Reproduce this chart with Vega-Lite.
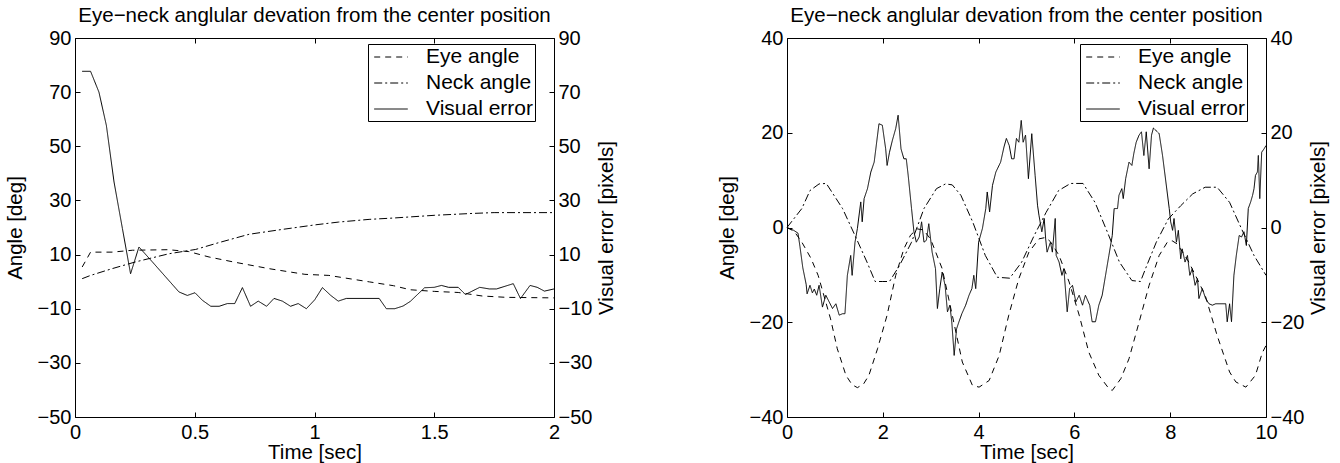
{
  "$schema": "https://vega.github.io/schema/vega-lite/v6.json",
  "background": "white",
  "padding": {"left": 4, "top": 5, "right": 5, "bottom": 0},
  "bounds": "flush",
  "spacing": 233,
  "config": {
    "font": "Liberation Sans",
    "view": {"stroke": "black", "strokeWidth": 1},
    "axis": {"domain": false, "grid": false, "tickSize": -5, "tickColor": "black", "tickWidth": 1, "labelColor": "black", "titleColor": "black", "labelFontSize": 20, "titleFontSize": 20.5, "titleFontWeight": "normal", "labelFont": "Liberation Sans", "titleFont": "Liberation Sans", "labelPadding": 9, "format": "~f", "labelOverlap": false, "labelFlush": false, "minExtent": 0},
    "title": {"fontSize": 20.5, "fontWeight": "normal", "font": "Liberation Sans", "color": "black", "offset": 2, "baseline": "alphabetic", "anchor": "middle", "frame": "group"},
    "legend": {"symbolType": "M-1.6,0H1.6", "symbolSize": 441, "symbolStrokeWidth": 1, "symbolStrokeColor": "black", "symbolOffset": 10, "labelFontSize": 21, "labelFont": "Liberation Sans", "labelColor": "black", "labelOffset": 24, "padding": 2, "rowPadding": 5, "strokeColor": "black", "fillColor": "white", "labelLimit": 300}
  },
  "datasets": {
    "left": [
      {"t": 0.03, "series": "Eye angle", "v": 5.4},
      {"t": 0.065, "series": "Eye angle", "v": 10.9},
      {"t": 0.155, "series": "Eye angle", "v": 10.9},
      {"t": 0.24, "series": "Eye angle", "v": 11.6},
      {"t": 0.39, "series": "Eye angle", "v": 11.8},
      {"t": 0.475, "series": "Eye angle", "v": 11.1},
      {"t": 0.56, "series": "Eye angle", "v": 9.1},
      {"t": 0.66, "series": "Eye angle", "v": 7.3},
      {"t": 0.81, "series": "Eye angle", "v": 4.8},
      {"t": 0.96, "series": "Eye angle", "v": 2.7},
      {"t": 1.06, "series": "Eye angle", "v": 2.3},
      {"t": 1.23, "series": "Eye angle", "v": -0.1},
      {"t": 1.33, "series": "Eye angle", "v": -1.5},
      {"t": 1.4, "series": "Eye angle", "v": -3.0},
      {"t": 1.5, "series": "Eye angle", "v": -3.6},
      {"t": 1.6, "series": "Eye angle", "v": -4.0},
      {"t": 1.7, "series": "Eye angle", "v": -5.3},
      {"t": 1.8, "series": "Eye angle", "v": -5.8},
      {"t": 2.0, "series": "Eye angle", "v": -6.0},
      {"t": 0.03, "series": "Neck angle", "v": 1.1},
      {"t": 0.065, "series": "Neck angle", "v": 2.3},
      {"t": 0.155, "series": "Neck angle", "v": 4.8},
      {"t": 0.253, "series": "Neck angle", "v": 7.3},
      {"t": 0.392, "series": "Neck angle", "v": 10.3},
      {"t": 0.504, "series": "Neck angle", "v": 11.9},
      {"t": 0.6, "series": "Neck angle", "v": 14.4},
      {"t": 0.727, "series": "Neck angle", "v": 17.5},
      {"t": 0.866, "series": "Neck angle", "v": 19.3},
      {"t": 1.005, "series": "Neck angle", "v": 21.0},
      {"t": 1.1, "series": "Neck angle", "v": 22.0},
      {"t": 1.228, "series": "Neck angle", "v": 23.0},
      {"t": 1.33, "series": "Neck angle", "v": 23.5},
      {"t": 1.5, "series": "Neck angle", "v": 24.5},
      {"t": 1.66, "series": "Neck angle", "v": 25.2},
      {"t": 1.75, "series": "Neck angle", "v": 25.5},
      {"t": 2.0, "series": "Neck angle", "v": 25.5},
      {"t": 0.03, "series": "Visual error", "v": 77.7},
      {"t": 0.065, "series": "Visual error", "v": 77.7},
      {"t": 0.1, "series": "Visual error", "v": 70.0},
      {"t": 0.131, "series": "Visual error", "v": 57.7},
      {"t": 0.163, "series": "Visual error", "v": 36.8},
      {"t": 0.198, "series": "Visual error", "v": 19.6},
      {"t": 0.232, "series": "Visual error", "v": 2.9},
      {"t": 0.267, "series": "Visual error", "v": 12.8},
      {"t": 0.323, "series": "Visual error", "v": 7.3},
      {"t": 0.379, "series": "Visual error", "v": 1.7},
      {"t": 0.434, "series": "Visual error", "v": -3.8},
      {"t": 0.469, "series": "Visual error", "v": -5.1},
      {"t": 0.501, "series": "Visual error", "v": -4.1},
      {"t": 0.532, "series": "Visual error", "v": -6.9},
      {"t": 0.567, "series": "Visual error", "v": -9.1},
      {"t": 0.602, "series": "Visual error", "v": -9.1},
      {"t": 0.636, "series": "Visual error", "v": -8.1},
      {"t": 0.667, "series": "Visual error", "v": -8.1},
      {"t": 0.699, "series": "Visual error", "v": -2.2},
      {"t": 0.733, "series": "Visual error", "v": -9.1},
      {"t": 0.765, "series": "Visual error", "v": -7.2},
      {"t": 0.8, "series": "Visual error", "v": -9.1},
      {"t": 0.831, "series": "Visual error", "v": -6.2},
      {"t": 0.866, "series": "Visual error", "v": -7.2},
      {"t": 0.9, "series": "Visual error", "v": -9.1},
      {"t": 0.932, "series": "Visual error", "v": -8.1},
      {"t": 0.966, "series": "Visual error", "v": -10.0},
      {"t": 1.001, "series": "Visual error", "v": -6.7},
      {"t": 1.033, "series": "Visual error", "v": -2.2},
      {"t": 1.068, "series": "Visual error", "v": -5.1},
      {"t": 1.099, "series": "Visual error", "v": -7.2},
      {"t": 1.133, "series": "Visual error", "v": -6.2},
      {"t": 1.27, "series": "Visual error", "v": -6.2},
      {"t": 1.3, "series": "Visual error", "v": -10.0},
      {"t": 1.335, "series": "Visual error", "v": -10.0},
      {"t": 1.37, "series": "Visual error", "v": -9.0},
      {"t": 1.4, "series": "Visual error", "v": -7.3},
      {"t": 1.43, "series": "Visual error", "v": -4.75},
      {"t": 1.46, "series": "Visual error", "v": -2.25},
      {"t": 1.5, "series": "Visual error", "v": -2.1},
      {"t": 1.53, "series": "Visual error", "v": -1.4},
      {"t": 1.56, "series": "Visual error", "v": -2.1},
      {"t": 1.6, "series": "Visual error", "v": -2.1},
      {"t": 1.63, "series": "Visual error", "v": -4.75},
      {"t": 1.69, "series": "Visual error", "v": -2.1},
      {"t": 1.73, "series": "Visual error", "v": -2.7},
      {"t": 1.76, "series": "Visual error", "v": -2.7},
      {"t": 1.83, "series": "Visual error", "v": -0.75},
      {"t": 1.86, "series": "Visual error", "v": -6.25},
      {"t": 1.9, "series": "Visual error", "v": -1.4},
      {"t": 1.93, "series": "Visual error", "v": -2.1},
      {"t": 1.96, "series": "Visual error", "v": -3.5},
      {"t": 2.0, "series": "Visual error", "v": -2.7}
    ],
    "right": [
      {"t": 0, "series": "Eye angle", "v": 0},
      {"t": 0.15, "series": "Eye angle", "v": -0.8},
      {"t": 0.31, "series": "Eye angle", "v": -3.1},
      {"t": 0.5, "series": "Eye angle", "v": -6.5},
      {"t": 0.65, "series": "Eye angle", "v": -10.1},
      {"t": 0.91, "series": "Eye angle", "v": -19.3},
      {"t": 1.05, "series": "Eye angle", "v": -25.6},
      {"t": 1.16, "series": "Eye angle", "v": -29.0},
      {"t": 1.23, "series": "Eye angle", "v": -31.2},
      {"t": 1.36, "series": "Eye angle", "v": -33.2},
      {"t": 1.47, "series": "Eye angle", "v": -33.8},
      {"t": 1.6, "series": "Eye angle", "v": -33.0},
      {"t": 1.71, "series": "Eye angle", "v": -31.2},
      {"t": 1.89, "series": "Eye angle", "v": -25.6},
      {"t": 2.09, "series": "Eye angle", "v": -18.5},
      {"t": 2.27, "series": "Eye angle", "v": -10.1},
      {"t": 2.44, "series": "Eye angle", "v": -4.5},
      {"t": 2.58, "series": "Eye angle", "v": -1.6},
      {"t": 2.72, "series": "Eye angle", "v": -0.3},
      {"t": 2.85, "series": "Eye angle", "v": -0.5},
      {"t": 3.0, "series": "Eye angle", "v": -2.5},
      {"t": 3.24, "series": "Eye angle", "v": -8.7},
      {"t": 3.45, "series": "Eye angle", "v": -18.5},
      {"t": 3.66, "series": "Eye angle", "v": -28.4},
      {"t": 3.87, "series": "Eye angle", "v": -33.3},
      {"t": 4.01, "series": "Eye angle", "v": -33.7},
      {"t": 4.22, "series": "Eye angle", "v": -32.3},
      {"t": 4.43, "series": "Eye angle", "v": -27.0},
      {"t": 4.63, "series": "Eye angle", "v": -18.5},
      {"t": 4.84, "series": "Eye angle", "v": -10.8},
      {"t": 5.05, "series": "Eye angle", "v": -5.2},
      {"t": 5.26, "series": "Eye angle", "v": -2.4},
      {"t": 5.4, "series": "Eye angle", "v": -2.1},
      {"t": 5.5, "series": "Eye angle", "v": -3.0},
      {"t": 5.68, "series": "Eye angle", "v": -5.9},
      {"t": 5.89, "series": "Eye angle", "v": -11.5},
      {"t": 6.1, "series": "Eye angle", "v": -18.5},
      {"t": 6.3, "series": "Eye angle", "v": -26.3},
      {"t": 6.51, "series": "Eye angle", "v": -31.2},
      {"t": 6.72, "series": "Eye angle", "v": -34.0},
      {"t": 6.79, "series": "Eye angle", "v": -34.4},
      {"t": 6.97, "series": "Eye angle", "v": -31.9},
      {"t": 7.14, "series": "Eye angle", "v": -27.7},
      {"t": 7.35, "series": "Eye angle", "v": -20.0},
      {"t": 7.56, "series": "Eye angle", "v": -12.2},
      {"t": 7.77, "series": "Eye angle", "v": -5.9},
      {"t": 7.94, "series": "Eye angle", "v": -3.1},
      {"t": 8.04, "series": "Eye angle", "v": -2.8},
      {"t": 8.15, "series": "Eye angle", "v": -3.5},
      {"t": 8.39, "series": "Eye angle", "v": -7.3},
      {"t": 8.73, "series": "Eye angle", "v": -14.3},
      {"t": 8.98, "series": "Eye angle", "v": -22.8},
      {"t": 9.24, "series": "Eye angle", "v": -30.5},
      {"t": 9.37, "series": "Eye angle", "v": -32.6},
      {"t": 9.58, "series": "Eye angle", "v": -33.7},
      {"t": 9.78, "series": "Eye angle", "v": -31.2},
      {"t": 9.92, "series": "Eye angle", "v": -26.5},
      {"t": 10, "series": "Eye angle", "v": -24.9},
      {"t": 0, "series": "Neck angle", "v": 0},
      {"t": 0.31, "series": "Neck angle", "v": 4.0},
      {"t": 0.48, "series": "Neck angle", "v": 7.8},
      {"t": 0.67, "series": "Neck angle", "v": 9.2},
      {"t": 0.82, "series": "Neck angle", "v": 9.3},
      {"t": 1.16, "series": "Neck angle", "v": 4.0},
      {"t": 1.42, "series": "Neck angle", "v": -1.7},
      {"t": 1.67, "series": "Neck angle", "v": -7.3},
      {"t": 1.84, "series": "Neck angle", "v": -11.4},
      {"t": 2.0, "series": "Neck angle", "v": -11.4},
      {"t": 2.14, "series": "Neck angle", "v": -11.4},
      {"t": 2.35, "series": "Neck angle", "v": -8.0},
      {"t": 2.6, "series": "Neck angle", "v": -3.1},
      {"t": 2.86, "series": "Neck angle", "v": 4.0},
      {"t": 3.12, "series": "Neck angle", "v": 8.2},
      {"t": 3.31, "series": "Neck angle", "v": 9.2},
      {"t": 3.45, "series": "Neck angle", "v": 9.0},
      {"t": 3.63, "series": "Neck angle", "v": 6.8},
      {"t": 3.88, "series": "Neck angle", "v": 1.1},
      {"t": 4.14, "series": "Neck angle", "v": -5.9},
      {"t": 4.39, "series": "Neck angle", "v": -10.5},
      {"t": 4.65, "series": "Neck angle", "v": -10.7},
      {"t": 4.9, "series": "Neck angle", "v": -7.3},
      {"t": 5.16, "series": "Neck angle", "v": -1.7},
      {"t": 5.41, "series": "Neck angle", "v": 3.2},
      {"t": 5.67, "series": "Neck angle", "v": 7.8},
      {"t": 5.92, "series": "Neck angle", "v": 9.3},
      {"t": 6.18, "series": "Neck angle", "v": 9.3},
      {"t": 6.43, "series": "Neck angle", "v": 5.3},
      {"t": 6.69, "series": "Neck angle", "v": -1.0},
      {"t": 6.94, "series": "Neck angle", "v": -7.3},
      {"t": 7.2, "series": "Neck angle", "v": -11.2},
      {"t": 7.38, "series": "Neck angle", "v": -11.4},
      {"t": 7.5, "series": "Neck angle", "v": -8.3},
      {"t": 7.71, "series": "Neck angle", "v": -3.1},
      {"t": 7.96, "series": "Neck angle", "v": 1.8},
      {"t": 8.22, "series": "Neck angle", "v": 4.6},
      {"t": 8.47, "series": "Neck angle", "v": 7.1},
      {"t": 8.73, "series": "Neck angle", "v": 8.5},
      {"t": 8.98, "series": "Neck angle", "v": 8.5},
      {"t": 9.24, "series": "Neck angle", "v": 5.3},
      {"t": 9.49, "series": "Neck angle", "v": -0.3},
      {"t": 9.75, "series": "Neck angle", "v": -5.9},
      {"t": 10, "series": "Neck angle", "v": -10.1},
      {"t": 0.02, "series": "Visual error", "v": -0.1},
      {"t": 0.14, "series": "Visual error", "v": -0.6},
      {"t": 0.23, "series": "Visual error", "v": -1.2},
      {"t": 0.27, "series": "Visual error", "v": -4.0},
      {"t": 0.33, "series": "Visual error", "v": -8.5},
      {"t": 0.4, "series": "Visual error", "v": -12.0},
      {"t": 0.42, "series": "Visual error", "v": -14.0},
      {"t": 0.48, "series": "Visual error", "v": -12.2},
      {"t": 0.53, "series": "Visual error", "v": -13.8},
      {"t": 0.57, "series": "Visual error", "v": -13.0},
      {"t": 0.62, "series": "Visual error", "v": -14.3},
      {"t": 0.67, "series": "Visual error", "v": -12.2},
      {"t": 0.74, "series": "Visual error", "v": -16.8},
      {"t": 0.81, "series": "Visual error", "v": -14.3},
      {"t": 0.88, "series": "Visual error", "v": -15.7},
      {"t": 0.95, "series": "Visual error", "v": -17.1},
      {"t": 1.02, "series": "Visual error", "v": -16.1},
      {"t": 1.09, "series": "Visual error", "v": -18.5},
      {"t": 1.16, "series": "Visual error", "v": -18.2},
      {"t": 1.21, "series": "Visual error", "v": -18.2},
      {"t": 1.26, "series": "Visual error", "v": -10.1},
      {"t": 1.33, "series": "Visual error", "v": -5.9},
      {"t": 1.36, "series": "Visual error", "v": -10.1},
      {"t": 1.42, "series": "Visual error", "v": -3.1},
      {"t": 1.47, "series": "Visual error", "v": -0.2},
      {"t": 1.54, "series": "Visual error", "v": 5.4},
      {"t": 1.57, "series": "Visual error", "v": 1.2},
      {"t": 1.61, "series": "Visual error", "v": 6.1},
      {"t": 1.68, "series": "Visual error", "v": 8.2},
      {"t": 1.75, "series": "Visual error", "v": 11.7},
      {"t": 1.82, "series": "Visual error", "v": 13.8},
      {"t": 1.92, "series": "Visual error", "v": 21.9},
      {"t": 1.99, "series": "Visual error", "v": 21.6},
      {"t": 2.06, "series": "Visual error", "v": 16.6},
      {"t": 2.09, "series": "Visual error", "v": 13.1},
      {"t": 2.14, "series": "Visual error", "v": 15.9},
      {"t": 2.2, "series": "Visual error", "v": 18.4},
      {"t": 2.27, "series": "Visual error", "v": 20.9},
      {"t": 2.32, "series": "Visual error", "v": 23.7},
      {"t": 2.38, "series": "Visual error", "v": 16.6},
      {"t": 2.44, "series": "Visual error", "v": 14.5},
      {"t": 2.49, "series": "Visual error", "v": 14.5},
      {"t": 2.53, "series": "Visual error", "v": 11.0},
      {"t": 2.6, "series": "Visual error", "v": 4.0},
      {"t": 2.65, "series": "Visual error", "v": -0.9},
      {"t": 2.7, "series": "Visual error", "v": -3.1},
      {"t": 2.76, "series": "Visual error", "v": -2.0},
      {"t": 2.81, "series": "Visual error", "v": 1.2},
      {"t": 2.86, "series": "Visual error", "v": -3.1},
      {"t": 2.91, "series": "Visual error", "v": -2.7},
      {"t": 2.96, "series": "Visual error", "v": 0.8},
      {"t": 3.03, "series": "Visual error", "v": -5.2},
      {"t": 3.1, "series": "Visual error", "v": -8.7},
      {"t": 3.14, "series": "Visual error", "v": -17.1},
      {"t": 3.19, "series": "Visual error", "v": -12.9},
      {"t": 3.24, "series": "Visual error", "v": -9.4},
      {"t": 3.3, "series": "Visual error", "v": -12.2},
      {"t": 3.35, "series": "Visual error", "v": -17.8},
      {"t": 3.4, "series": "Visual error", "v": -16.4},
      {"t": 3.44, "series": "Visual error", "v": -19.9},
      {"t": 3.49, "series": "Visual error", "v": -27.0},
      {"t": 3.54, "series": "Visual error", "v": -21.4},
      {"t": 3.59, "series": "Visual error", "v": -19.9},
      {"t": 3.65, "series": "Visual error", "v": -18.2},
      {"t": 3.73, "series": "Visual error", "v": -16.4},
      {"t": 3.8, "series": "Visual error", "v": -14.3},
      {"t": 3.86, "series": "Visual error", "v": -12.9},
      {"t": 3.9, "series": "Visual error", "v": -10.1},
      {"t": 3.94, "series": "Visual error", "v": -12.9},
      {"t": 4.0, "series": "Visual error", "v": -3.1},
      {"t": 4.08, "series": "Visual error", "v": -0.2},
      {"t": 4.15, "series": "Visual error", "v": 4.0},
      {"t": 4.18, "series": "Visual error", "v": 7.5},
      {"t": 4.23, "series": "Visual error", "v": 3.3},
      {"t": 4.29, "series": "Visual error", "v": 8.9},
      {"t": 4.36, "series": "Visual error", "v": 11.7},
      {"t": 4.46, "series": "Visual error", "v": 13.8},
      {"t": 4.53, "series": "Visual error", "v": 17.0},
      {"t": 4.58, "series": "Visual error", "v": 18.8},
      {"t": 4.64, "series": "Visual error", "v": 17.3},
      {"t": 4.69, "series": "Visual error", "v": 14.5},
      {"t": 4.74, "series": "Visual error", "v": 14.5},
      {"t": 4.79, "series": "Visual error", "v": 18.8},
      {"t": 4.84, "series": "Visual error", "v": 18.0},
      {"t": 4.89, "series": "Visual error", "v": 22.6},
      {"t": 4.93, "series": "Visual error", "v": 18.0},
      {"t": 4.98, "series": "Visual error", "v": 19.5},
      {"t": 5.04, "series": "Visual error", "v": 10.3},
      {"t": 5.11, "series": "Visual error", "v": 19.8},
      {"t": 5.18, "series": "Visual error", "v": 11.0},
      {"t": 5.23, "series": "Visual error", "v": 4.7},
      {"t": 5.26, "series": "Visual error", "v": 2.6},
      {"t": 5.32, "series": "Visual error", "v": -0.9},
      {"t": 5.37, "series": "Visual error", "v": 1.9},
      {"t": 5.4, "series": "Visual error", "v": -2.4},
      {"t": 5.43, "series": "Visual error", "v": -5.2},
      {"t": 5.5, "series": "Visual error", "v": -3.1},
      {"t": 5.54, "series": "Visual error", "v": -5.2},
      {"t": 5.6, "series": "Visual error", "v": 1.9},
      {"t": 5.62, "series": "Visual error", "v": -5.9},
      {"t": 5.68, "series": "Visual error", "v": -7.3},
      {"t": 5.74, "series": "Visual error", "v": -10.1},
      {"t": 5.78, "series": "Visual error", "v": -8.7},
      {"t": 5.85, "series": "Visual error", "v": -17.8},
      {"t": 5.9, "series": "Visual error", "v": -12.9},
      {"t": 5.96, "series": "Visual error", "v": -12.2},
      {"t": 6.03, "series": "Visual error", "v": -15.7},
      {"t": 6.1, "series": "Visual error", "v": -14.3},
      {"t": 6.17, "series": "Visual error", "v": -16.4},
      {"t": 6.23, "series": "Visual error", "v": -14.3},
      {"t": 6.32, "series": "Visual error", "v": -16.4},
      {"t": 6.37, "series": "Visual error", "v": -19.9},
      {"t": 6.44, "series": "Visual error", "v": -19.9},
      {"t": 6.51, "series": "Visual error", "v": -16.4},
      {"t": 6.58, "series": "Visual error", "v": -14.3},
      {"t": 6.65, "series": "Visual error", "v": -10.1},
      {"t": 6.72, "series": "Visual error", "v": -5.9},
      {"t": 6.79, "series": "Visual error", "v": -1.7},
      {"t": 6.83, "series": "Visual error", "v": 4.0},
      {"t": 6.9, "series": "Visual error", "v": 4.0},
      {"t": 6.93, "series": "Visual error", "v": 6.8},
      {"t": 6.99, "series": "Visual error", "v": 8.2},
      {"t": 7.02, "series": "Visual error", "v": 6.1},
      {"t": 7.07, "series": "Visual error", "v": 10.3},
      {"t": 7.14, "series": "Visual error", "v": 13.8},
      {"t": 7.2, "series": "Visual error", "v": 13.1},
      {"t": 7.24, "series": "Visual error", "v": 15.6},
      {"t": 7.29, "series": "Visual error", "v": 18.0},
      {"t": 7.35, "series": "Visual error", "v": 19.5},
      {"t": 7.4, "series": "Visual error", "v": 20.2},
      {"t": 7.45, "series": "Visual error", "v": 15.2},
      {"t": 7.5, "series": "Visual error", "v": 20.2},
      {"t": 7.56, "series": "Visual error", "v": 12.4},
      {"t": 7.61, "series": "Visual error", "v": 19.5},
      {"t": 7.65, "series": "Visual error", "v": 21.0},
      {"t": 7.7, "series": "Visual error", "v": 20.5},
      {"t": 7.77, "series": "Visual error", "v": 19.8},
      {"t": 7.84, "series": "Visual error", "v": 15.2},
      {"t": 7.91, "series": "Visual error", "v": 9.6},
      {"t": 7.98, "series": "Visual error", "v": 4.0},
      {"t": 8.01, "series": "Visual error", "v": 1.2},
      {"t": 8.05, "series": "Visual error", "v": -0.6},
      {"t": 8.08, "series": "Visual error", "v": 1.9},
      {"t": 8.13, "series": "Visual error", "v": -3.1},
      {"t": 8.17, "series": "Visual error", "v": -0.6},
      {"t": 8.22, "series": "Visual error", "v": -6.6},
      {"t": 8.25, "series": "Visual error", "v": -4.5},
      {"t": 8.31, "series": "Visual error", "v": -7.3},
      {"t": 8.36, "series": "Visual error", "v": -5.9},
      {"t": 8.41, "series": "Visual error", "v": -10.1},
      {"t": 8.46, "series": "Visual error", "v": -8.7},
      {"t": 8.52, "series": "Visual error", "v": -12.2},
      {"t": 8.57, "series": "Visual error", "v": -10.8},
      {"t": 8.6, "series": "Visual error", "v": -15.0},
      {"t": 8.67, "series": "Visual error", "v": -12.9},
      {"t": 8.74, "series": "Visual error", "v": -15.0},
      {"t": 8.81, "series": "Visual error", "v": -16.1},
      {"t": 8.88, "series": "Visual error", "v": -16.4},
      {"t": 8.95, "series": "Visual error", "v": -16.1},
      {"t": 9.16, "series": "Visual error", "v": -16.1},
      {"t": 9.19, "series": "Visual error", "v": -19.9},
      {"t": 9.24, "series": "Visual error", "v": -16.1},
      {"t": 9.28, "series": "Visual error", "v": -19.9},
      {"t": 9.33, "series": "Visual error", "v": -10.1},
      {"t": 9.38, "series": "Visual error", "v": -5.9},
      {"t": 9.44, "series": "Visual error", "v": -1.7},
      {"t": 9.49, "series": "Visual error", "v": -2.0},
      {"t": 9.54, "series": "Visual error", "v": -0.9},
      {"t": 9.59, "series": "Visual error", "v": -3.8},
      {"t": 9.63, "series": "Visual error", "v": 4.0},
      {"t": 9.68, "series": "Visual error", "v": 5.4},
      {"t": 9.72, "series": "Visual error", "v": 6.8},
      {"t": 9.75, "series": "Visual error", "v": 8.2},
      {"t": 9.78, "series": "Visual error", "v": 11.0},
      {"t": 9.82, "series": "Visual error", "v": 11.7},
      {"t": 9.84, "series": "Visual error", "v": 15.2},
      {"t": 9.87, "series": "Visual error", "v": 6.1},
      {"t": 9.91, "series": "Visual error", "v": 15.9},
      {"t": 9.96, "series": "Visual error", "v": 16.6},
      {"t": 10, "series": "Visual error", "v": 17.3}
    ]
  },
  "resolve": {"scale": {"strokeDash": "independent"}, "legend": {"strokeDash": "independent"}},
  "hconcat": [
    {
      "width": 479, "height": 379,
      "title": {"text": "Eye−neck anglular devation from the center position"},
      "data": {"name": "left"},
      "resolve": {"scale": {"x": "independent", "y": "independent"}},
      "layer": [
        {
          "transform": [{"filter": "datum.series !== 'Visual error'"}],
          "mark": {"type": "line", "strokeWidth": 1, "color": "black"},
          "encoding": {
            "x": {"field": "t", "type": "quantitative", "scale": {"domain": [0, 2], "nice": false, "zero": false}, "axis": {"orient": "bottom", "title": "Time [sec]", "values": [0, 0.5, 1, 1.5, 2], "labelPadding": 10, "titlePadding": 0}},
            "y": {"field": "v", "type": "quantitative", "scale": {"domain": [-50, 90], "nice": false, "zero": false}, "axis": {"orient": "left", "title": "Angle [deg]", "values": [-50, -30, -10, 10, 30, 50, 70, 90], "titlePadding": 12}},
            "strokeDash": {"field": "series", "type": "nominal", "scale": {"domain": ["Eye angle", "Neck angle", "Visual error"], "range": [[6, 5], [8, 3, 2, 3], [1, 0]]}, "legend": {"title": null, "orient": "none", "legendX": 293, "legendY": 6}}
          }
        },
        {
          "transform": [{"filter": "datum.series === 'Visual error'"}],
          "mark": {"type": "line", "strokeWidth": 1, "color": "black"},
          "encoding": {
            "x": {"field": "t", "type": "quantitative", "scale": {"domain": [0, 2], "nice": false, "zero": false}, "axis": {"orient": "top", "title": null, "labels": false, "values": [0, 0.5, 1, 1.5, 2]}},
            "y": {"field": "v", "type": "quantitative", "scale": {"domain": [-50, 90], "nice": false, "zero": false}, "axis": {"orient": "right", "title": "Visual error [pixels]", "titleAngle": 270, "titleBaseline": "top", "values": [-50, -30, -10, 10, 30, 50, 70, 90], "titlePadding": 5}},
            "strokeDash": {"field": "series", "type": "nominal", "scale": {"domain": ["Eye angle", "Neck angle", "Visual error"], "range": [[6, 5], [8, 3, 2, 3], [1, 0]]}, "legend": {"title": null, "orient": "none", "legendX": 293, "legendY": 6}}
          }
        }
      ]
    },
    {
      "width": 479, "height": 379,
      "title": {"text": "Eye−neck anglular devation from the center position"},
      "data": {"name": "right"},
      "resolve": {"scale": {"x": "independent", "y": "independent"}},
      "layer": [
        {
          "transform": [{"filter": "datum.series !== 'Visual error'"}],
          "mark": {"type": "line", "strokeWidth": 1, "color": "black"},
          "encoding": {
            "x": {"field": "t", "type": "quantitative", "scale": {"domain": [0, 10], "nice": false, "zero": false}, "axis": {"orient": "bottom", "title": "Time [sec]", "values": [0, 2, 4, 6, 8, 10], "labelPadding": 10, "titlePadding": 0}},
            "y": {"field": "v", "type": "quantitative", "scale": {"domain": [-40, 40], "nice": false, "zero": false}, "axis": {"orient": "left", "title": "Angle [deg]", "values": [-40, -20, 0, 20, 40], "titlePadding": 12}},
            "strokeDash": {"field": "series", "type": "nominal", "scale": {"domain": ["Eye angle", "Neck angle", "Visual error"], "range": [[6, 5], [8, 3, 2, 3], [1, 0]]}, "legend": {"title": null, "orient": "none", "legendX": 293, "legendY": 6}}
          }
        },
        {
          "transform": [{"filter": "datum.series === 'Visual error'"}],
          "mark": {"type": "line", "strokeWidth": 1, "color": "black"},
          "encoding": {
            "x": {"field": "t", "type": "quantitative", "scale": {"domain": [0, 10], "nice": false, "zero": false}, "axis": {"orient": "top", "title": null, "labels": false, "values": [0, 2, 4, 6, 8, 10]}},
            "y": {"field": "v", "type": "quantitative", "scale": {"domain": [-40, 40], "nice": false, "zero": false}, "axis": {"orient": "right", "title": "Visual error [pixels]", "titleAngle": 270, "titleBaseline": "top", "values": [-40, -20, 0, 20, 40], "titlePadding": 5}},
            "strokeDash": {"field": "series", "type": "nominal", "scale": {"domain": ["Eye angle", "Neck angle", "Visual error"], "range": [[6, 5], [8, 3, 2, 3], [1, 0]]}, "legend": {"title": null, "orient": "none", "legendX": 293, "legendY": 6}}
          }
        }
      ]
    }
  ]
}
